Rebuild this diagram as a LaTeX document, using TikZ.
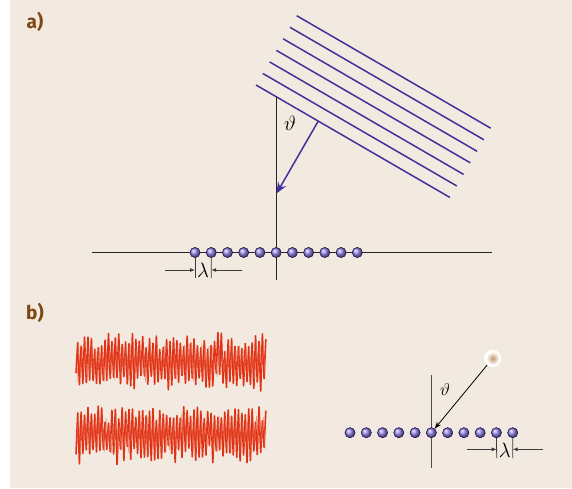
\documentclass[tikz,border=0pt]{standalone}
\usepackage{fontspec}
\newfontfamily\labfont{Fira Sans}
\usetikzlibrary{arrows.meta}
\definecolor{bg}{RGB}{242,234,224}
\definecolor{labbrown}{RGB}{122,72,16}
\definecolor{wavec}{RGB}{66,48,156}
\definecolor{atomc}{RGB}{150,135,230}
\definecolor{atomedge}{RGB}{40,30,90}
\definecolor{noisec}{RGB}{226,50,22}
\definecolor{noiselt}{RGB}{236,120,95}
\definecolor{dimc}{RGB}{60,60,60}
\definecolor{srcc}{RGB}{196,150,110}
\begin{document}
\begin{tikzpicture}[x=1pt,y=-1pt,
  atom/.style={circle,inner sep=0pt,minimum size=10pt,shading=ball,ball color=atomc,draw=atomedge,line width=0.5pt},
  axis/.style={line width=1pt,draw=black!85},
  wave/.style={line width=1.5pt,draw=wavec},
  dimline/.style={line width=0.8pt,draw=dimc},
  dimarrow/.style={line width=0.8pt,draw=dimc,-{Latex[length=5pt,width=4pt]}},
  panellab/.style={text=labbrown,font=\labfont\bfseries\fontsize{19}{21}\selectfont,inner sep=0pt},
  sym/.style={inner sep=0pt,font=\fontsize{20}{22}\selectfont},
  noise/.style={line width=1.6pt,draw=noisec,line join=round},
  noiselight/.style={line width=0.6pt,draw=noiselt,opacity=0.7}]
\useasboundingbox (0,0) rectangle (572,488);
\fill[bg] (10,0) rectangle (572,488);

% labels
\node[panellab] (la) at (35,22) {a)};
\node[panellab] (lb) at (35,313) {b)};

% ---------- panel a ----------
\draw[axis] (91.7,252.5) coordinate (hL) -- (492.3,252.5) coordinate (hR);
% wave fronts
\foreach \k in {0,...,6}{
  \draw[wave] ({256+6.78*\k},{85-11.55*\k}) coordinate (ws\k) -- ++(194,112.5) coordinate (we\k);
}
\coordinate (vtop) at (276,96.5);
\coordinate (vbot) at (276,280);
\draw[axis] (vtop) -- (vbot);
\coordinate (kstart) at (318.3,121);
\coordinate (kend) at (276.5,193.5);
\draw[line width=1.5pt,draw=wavec,-{Stealth[length=11pt,width=9pt]}] (kstart) -- (kend);
\node[sym] (tha) at (290,123) {$\vartheta$};
% atoms
\foreach \i in {1,...,11}{
  \node[atom] (a\i) at ({195+16.23*(\i-1)},252.5) {};
}
\coordinate (ta1) at (195,278);
\coordinate (ta2) at (211.2,278);
\draw[dimline] (a1.center) -- (ta1);
\draw[dimline] (a2.center) -- (ta2);
\coordinate (la1) at (165,270);
\coordinate (ra1) at (241.7,270);
\draw[dimarrow] (la1) -- (195,270);
\draw[dimarrow] (ra1) -- (211.2,270);
\node[sym] (lama) at (203.1,270) {$\lambda$};
\foreach \i in {1,...,11}{
  \node[atom] at (a\i) {};
}

% ---------- panel b ----------
\pgfmathsetseed{5}
\draw[noise] plot[domain=0:111,samples=112] ({76+1.71*\x},{362+(13+15*rnd)*(1-2*mod(round(\x),2))+3*rand});
\draw[noiselight] plot[domain=0:110,samples=111] ({77+1.71*\x},{362+(6+14*rnd)*(1-2*mod(round(\x),2))});
\draw[noise] plot[domain=0:111,samples=112] ({76+1.71*\x},{434+(13+15*rnd)*(1-2*mod(round(\x),2))+3*rand});
\draw[noiselight] plot[domain=0:110,samples=111] ({77+1.71*\x},{434+(6+14*rnd)*(1-2*mod(round(\x),2))});

\coordinate (vbt) at (431.7,375);
\coordinate (vbb) at (431.7,468);
\draw[line width=1pt,draw=black!70] (vbt) -- (vbb);
\foreach \i in {1,...,11}{
  \node[atom] (b\i) at ({350+16.27*(\i-1)},432.7) {};
}
% source
\fill[white] (492.7,358.3) circle (8.5);
\shade[inner color=srcc,outer color=white] (492.7,358.3) circle (6.5);
\node[circle,inner sep=0pt,minimum size=17pt] (src) at (492.7,358.3) {};
\draw[line width=0.8pt,-{Stealth[length=7pt,width=5pt]}] (src) -- (b6);
\node[sym,font=\fontsize{18}{20}\selectfont] (thb) at (445,389) {$\vartheta$};
\coordinate (tb1) at (496.7,458);
\coordinate (tb2) at (512.7,458);
\draw[dimline] (b10.center) -- (tb1);
\draw[dimline] (b11.center) -- (tb2);
\coordinate (lb1) at (466.7,449.3);
\coordinate (rb1) at (543.3,449.3);
\draw[dimarrow] (lb1) -- (496.7,449.3);
\draw[dimarrow] (rb1) -- (512.7,449.3);
\node[sym] (lamb) at (504.7,450) {$\lambda$};
\foreach \i in {1,...,11}{
  \node[atom] at (b\i) {};
}
\end{tikzpicture}
\end{document}
